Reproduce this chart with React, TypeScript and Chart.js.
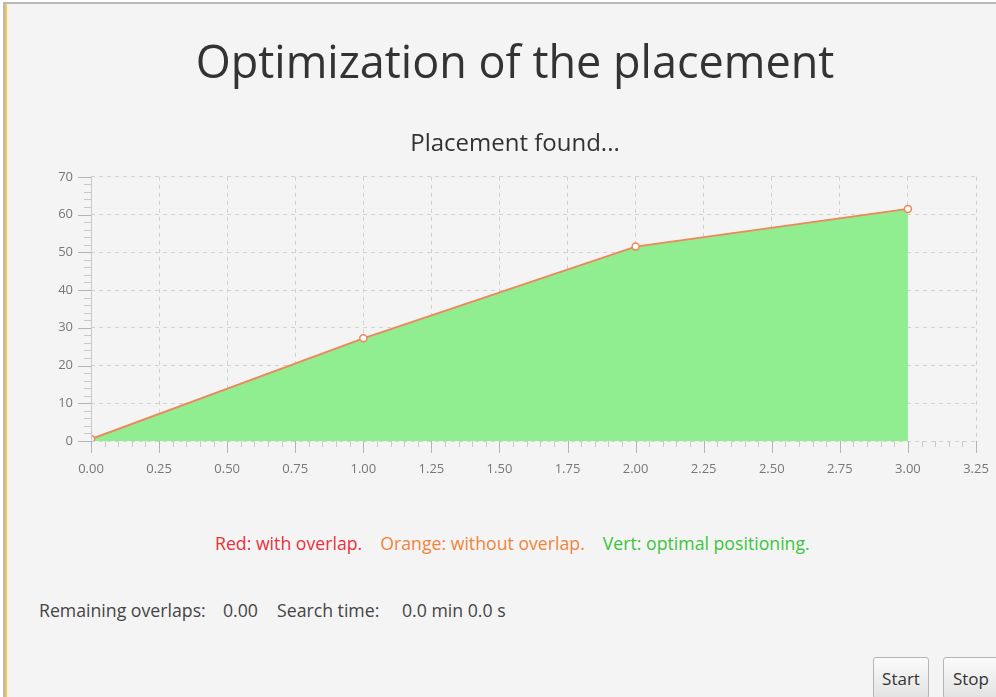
import React, { useEffect, useRef } from "react";
import { Chart, registerables } from "chart.js";

Chart.register(...registerables);

const xValues = [0, 1, 2, 3];
const yValues = [0.5, 27.2, 51.5, 61.5];
const xMin = 0;
const xMax = 3.25;
const xStep = 0.25;
const yMin = 0;
const yMax = 70;
const yStep = 10;
const chartTitle = "Optimization of the placement";
const chartSubtitle = "Placement found...";
const legendParts = [
  { text: "Red: with overlap.", color: "#e8303c" },
  { text: "Orange: without overlap.", color: "#f0843c" },
  { text: "Vert: optimal positioning.", color: "#3cc43c" },
];
const statusParts = ["Remaining overlaps:", "0.00", "Search time:", "0.0 min 0.0 s"];
const buttonLabels = ["Start", "Stop"];

const FONT = "'Open Sans', 'Noto Sans', 'DejaVu Sans', sans-serif";

const minorTicksPlugin = {
  id: "minorTicks",
  afterDraw(chart: any) {
    const ctx = chart.ctx;
    const xs = chart.scales.x;
    const ys = chart.scales.y;
    const area = chart.chartArea;
    ctx.save();
    ctx.lineWidth = 1;
    const xMinorPerMajor = 5;
    const nx = Math.round(((xMax - xMin) / xStep) * xMinorPerMajor);
    for (let i = 0; i <= nx; i++) {
      const v = xMin + (i * xStep) / xMinorPerMajor;
      const px = Math.round(xs.getPixelForValue(v)) + 0.5;
      const major = i % xMinorPerMajor === 0;
      ctx.strokeStyle = major ? "#b4b4b4" : "#c8c8c8";
      ctx.beginPath();
      ctx.moveTo(px, area.bottom);
      ctx.lineTo(px, area.bottom + (major ? 12 : 6));
      ctx.stroke();
    }
    const yMinorPerMajor = 5;
    const ny = Math.round(((yMax - yMin) / yStep) * yMinorPerMajor);
    for (let i = 0; i <= ny; i++) {
      const v = yMin + (i * yStep) / yMinorPerMajor;
      const py = Math.round(ys.getPixelForValue(v)) + 0.5;
      const major = i % yMinorPerMajor === 0;
      ctx.strokeStyle = major ? "#b4b4b4" : "#c8c8c8";
      ctx.beginPath();
      ctx.moveTo(area.left, py);
      ctx.lineTo(area.left - (major ? 13 : 7), py);
      ctx.stroke();
    }
    ctx.strokeStyle = "#c8c8c8";
    ctx.beginPath();
    ctx.moveTo(Math.round(area.left) + 0.5, area.top);
    ctx.lineTo(Math.round(area.left) + 0.5, area.bottom);
    ctx.stroke();
    ctx.restore();
  },
};

export default function App() {
  const canvasRef = useRef<HTMLCanvasElement | null>(null);

  useEffect(() => {
    document.body.style.margin = "0";
    const canvas = canvasRef.current;
    if (!canvas) return;
    const chart = new Chart(canvas, {
      type: "line",
      data: {
        datasets: [
          {
            data: xValues.map((x, i) => ({ x, y: yValues[i] })),
            borderColor: "#ee875a",
            borderWidth: 2,
            backgroundColor: "#90ee90",
            fill: "origin",
            pointRadius: 3.5,
            pointBackgroundColor: "#ffffff",
            pointBorderColor: "#ee875a",
            pointBorderWidth: 1.5,
            tension: 0,
          },
        ],
      },
      options: {
        responsive: false,
        animation: false,
        devicePixelRatio: 1,
        layout: { padding: { left: 54, right: 54, top: 0, bottom: 0 } },
        plugins: {
          legend: { display: false },
          tooltip: { enabled: false },
          title: {
            display: true,
            text: chartTitle,
            color: "#333333",
            font: { family: FONT, size: 45, weight: "normal", lineHeight: 1.2 },
            padding: { top: 38, bottom: 0 },
          },
          subtitle: {
            display: true,
            text: chartSubtitle,
            color: "#333333",
            font: { family: FONT, size: 24, weight: "normal", lineHeight: 1.2 },
            padding: { top: 38, bottom: 18 },
          },
        },
        scales: {
          x: {
            type: "linear",
            min: xMin,
            max: xMax,
            afterFit: (scale: any) => {
              scale.height = 39;
            },
            ticks: {
              stepSize: xStep,
              padding: 20,
              color: "#777777",
              font: { family: FONT, size: 13 },
              maxRotation: 0,
              autoSkip: false,
              callback: (v: any) => Number(v).toFixed(2),
            },
            grid: {
              color: "#d2d2d2",
              drawTicks: false,
            },
            border: { display: false, dash: [4, 4] },
          },
          y: {
            type: "linear",
            min: yMin,
            max: yMax,
            afterFit: (scale: any) => {
              scale.width = 37;
            },
            ticks: {
              stepSize: yStep,
              padding: 18,
              color: "#777777",
              font: { family: FONT, size: 13 },
            },
            grid: {
              color: "#d2d2d2",
              drawTicks: false,
            },
            border: { display: false, dash: [4, 4] },
          },
        },
      },
      plugins: [minorTicksPlugin],
    } as any);
    return () => chart.destroy();
  }, []);

  const buttonStyle: React.CSSProperties = {
    position: "absolute",
    top: 657,
    height: 42,
    boxSizing: "border-box",
    border: "1px solid #b5b5b5",
    borderRadius: 3,
    background: "linear-gradient(#fbfbfb, #e2e2e2)",
    color: "#333",
    fontFamily: FONT,
    fontSize: 17,
    display: "flex",
    alignItems: "center",
    justifyContent: "center",
    padding: "0 6px",
  };

  const textStyle: React.CSSProperties = {
    position: "absolute",
    fontFamily: FONT,
    fontSize: 17.7,
    whiteSpace: "nowrap",
    lineHeight: "24px",
  };

  return (
    <div
      style={{
        position: "absolute",
        left: 0,
        top: 0,
        width: 996,
        height: 697,
        overflow: "hidden",
        background: "#ffffff",
      }}
    >
      <div
        style={{
          position: "absolute",
          left: 3,
          top: 2,
          width: 1100,
          height: 800,
          background: "#f4f4f4",
          borderTop: "2px solid #b9b9b9",
          borderLeft: "2px solid #b9b9b9",
        }}
      />
      <div
        style={{
          position: "absolute",
          left: 5,
          top: 4,
          width: 2,
          height: 800,
          background: "#f3c647",
        }}
      />
      <canvas
        ref={canvasRef}
        width={1030}
        height={480}
        style={{ position: "absolute", left: 0, top: 0, width: 1030, height: 480 }}
      />
      <div style={{ ...textStyle, left: 215, top: 531 }}>
        {legendParts.map((p, i) => (
          <span key={i} style={{ color: p.color, marginRight: 18 }}>
            {p.text}
          </span>
        ))}
      </div>
      <div style={{ ...textStyle, left: 39, top: 598, color: "#444" }}>{statusParts[0]}</div>
      <div style={{ ...textStyle, left: 223, top: 598, color: "#444" }}>{statusParts[1]}</div>
      <div style={{ ...textStyle, left: 277, top: 598, color: "#444" }}>{statusParts[2]}</div>
      <div style={{ ...textStyle, left: 402, top: 598, color: "#444" }}>{statusParts[3]}</div>
      <div style={{ ...buttonStyle, left: 873, width: 56 }}>{buttonLabels[0]}</div>
      <div style={{ ...buttonStyle, left: 943, width: 56 }}>{buttonLabels[1]}</div>
    </div>
  );
}
